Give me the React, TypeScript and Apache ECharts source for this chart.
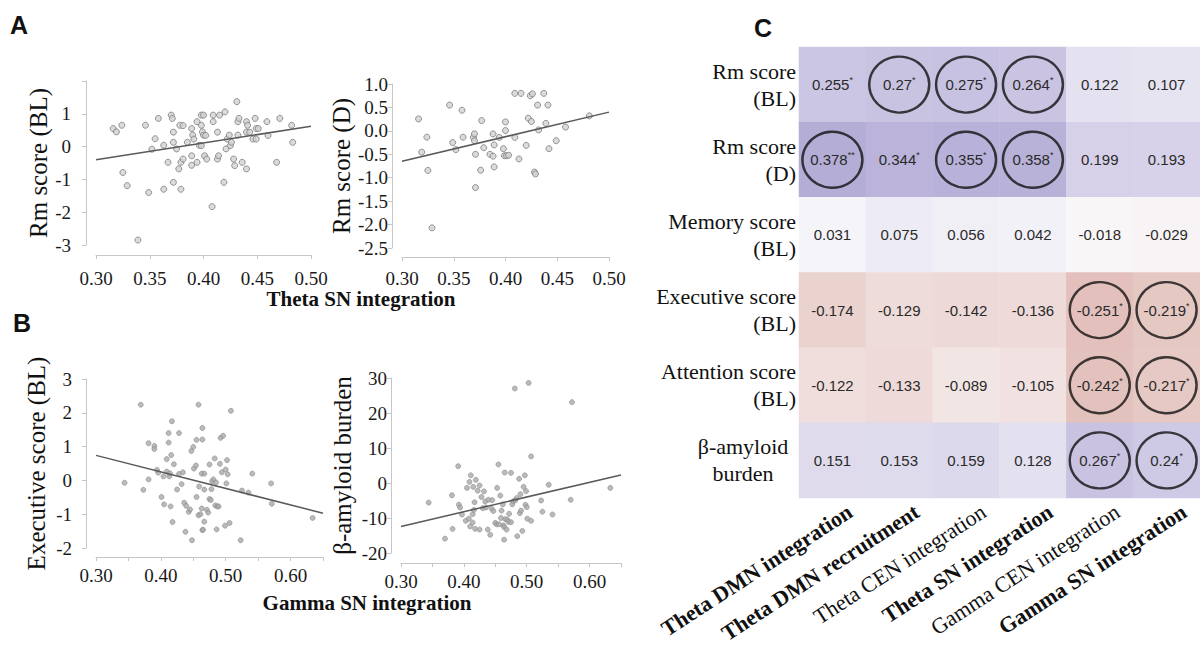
import React, { useEffect, useRef } from "react";
import * as echarts from "echarts";

// ---------- Panel A: Theta SN integration ----------
const rmScoreBL: number[][] = [
  [0.316, 0.55], [0.319, 0.45], [0.324, 0.65], [0.325, -0.79], [0.329, -1.19], [0.339, -2.85],
  [0.346, 0.65], [0.349, -1.4], [0.352, -0.08], [0.355, 0.24], [0.358, 0.86], [0.363, 0.04],
  [0.363, -1.3], [0.367, -0.48], [0.37, 0.96], [0.371, 0.86], [0.372, 0.44], [0.372, 0.13],
  [0.372, -1.09], [0.375, -0.07], [0.377, -0.68], [0.378, 0.65], [0.379, -0.48], [0.379, -1.3],
  [0.381, 0.64], [0.381, -0.38], [0.385, 0.13], [0.389, 0.55], [0.389, -0.28], [0.389, -0.57],
  [0.39, 0.35], [0.391, 0.23], [0.394, -0.48], [0.394, 0.76], [0.396, 0.04], [0.398, 0.96],
  [0.398, 0.65], [0.398, 0.03], [0.399, 0.45], [0.4, 0.96], [0.4, 0.35], [0.401, -0.28],
  [0.402, 0.34], [0.403, -0.38], [0.408, -1.83], [0.409, 0.96], [0.409, 0.76], [0.413, 0.44],
  [0.413, -0.38], [0.414, -0.28], [0.415, 0.96], [0.419, -1.09], [0.42, 1.06], [0.421, -0.07],
  [0.422, 0.23], [0.424, 0.35], [0.425, 0.03], [0.426, 0.13], [0.428, -0.38], [0.429, -0.58],
  [0.431, 1.37], [0.432, 0.76], [0.432, 0.35], [0.433, 0.86], [0.436, -0.48], [0.44, 0.44],
  [0.44, 0.76], [0.44, -0.68], [0.441, 0.65], [0.443, 0.44], [0.446, 0.23], [0.448, 0.86],
  [0.449, 0.55], [0.449, 0.23], [0.451, 0.55], [0.459, 0.76], [0.46, 0.34], [0.468, -0.48],
  [0.471, 0.86], [0.482, 0.65], [0.483, 0.13],
];
const fitRmScoreBL: number[][] = [[0.3, -0.4], [0.5, 0.62]];

const rmScoreD: number[][] = [
  [0.316, 0.255], [0.319, -0.455], [0.324, -0.135], [0.325, -0.845], [0.329, -2.07], [0.346, 0.55],
  [0.349, -0.25], [0.352, -0.4], [0.358, 0.44], [0.359, -0.135], [0.369, -0.14], [0.37, -0.065],
  [0.37, -0.21], [0.371, -0.5], [0.371, -1.21], [0.376, -0.84], [0.377, 0.22], [0.379, -0.36],
  [0.385, -0.5], [0.388, -0.065], [0.388, -0.54], [0.389, -0.77], [0.389, -0.3], [0.394, -0.14],
  [0.398, -0.38], [0.399, -0.53], [0.4, 0.006], [0.4, 0.19], [0.401, -0.53], [0.403, -0.52],
  [0.409, -0.14], [0.409, 0.8], [0.413, -0.6], [0.415, 0.8], [0.42, -0.31], [0.422, 0.27],
  [0.424, 0.75], [0.425, 0.2], [0.426, 0.79], [0.428, -0.88], [0.429, -0.92], [0.431, 0.55],
  [0.432, 0.02], [0.437, 0.8], [0.439, 0.16], [0.441, 0.55], [0.442, -0.38], [0.449, -0.21],
  [0.458, 0.08], [0.481, 0.32],
];
const fitRmScoreD: number[][] = [[0.3, -0.65], [0.5, 0.4]];

// ---------- Panel B: Gamma SN integration ----------
const executiveBL: number[][] = [
  [0.344, -0.07], [0.369, 2.24], [0.373, -0.28], [0.381, 1.1], [0.381, 0.03], [0.39, 1.02],
  [0.39, 0.93], [0.394, 0.31], [0.396, 0.23], [0.401, -0.49], [0.404, 0.12], [0.405, -0.71],
  [0.409, 0.63], [0.409, 0.26], [0.412, 1.4], [0.412, 1.12], [0.413, 0.12], [0.414, 0.21],
  [0.415, -0.77], [0.416, 0.75], [0.417, 1.75], [0.418, -1.23], [0.42, 0.48], [0.425, -0.27],
  [0.428, 1.4], [0.428, 0.19], [0.432, -0.11], [0.434, 0.24], [0.436, -0.66], [0.438, -1.52],
  [0.439, -0.75], [0.443, -0.93], [0.445, -0.86], [0.447, 0.87], [0.448, -1.77], [0.45, 0.99],
  [0.451, 0.35], [0.454, 0.44], [0.455, -0.49], [0.455, 1.2], [0.458, 2.24], [0.458, -1.03],
  [0.459, -0.18], [0.461, -1.0], [0.463, 0.2], [0.463, -0.83], [0.464, -1.47], [0.464, 1.55],
  [0.464, 1.21], [0.465, -1.46], [0.467, 0.2], [0.467, -0.27], [0.467, -1.22], [0.471, -0.87],
  [0.473, -0.95], [0.475, -0.55], [0.475, 0.47], [0.477, -0.58], [0.478, -0.26], [0.479, -0.03],
  [0.481, 0.03], [0.483, 0.65], [0.484, -0.74], [0.485, -0.06], [0.486, -1.45], [0.487, -0.77],
  [0.489, -0.77], [0.491, 0.49], [0.492, 1.26], [0.494, 0.24], [0.496, 1.32], [0.499, -1.34],
  [0.5, 0.32], [0.501, -0.09], [0.502, 0.6], [0.503, 0.18], [0.506, -1.26], [0.508, 2.06],
  [0.523, -1.77], [0.525, -0.3], [0.535, -0.36], [0.541, 0.2], [0.57, -0.09], [0.571, -0.69],
  [0.634, -1.11],
];
const fitExecutiveBL: number[][] = [[0.3, 0.74], [0.65, -0.97]];

const amyloidBurden: number[][] = [
  [0.344, -5.6], [0.37, -15.9], [0.381, -3.5], [0.382, -13.1], [0.391, 4.8], [0.392, -6.2],
  [0.394, -7.0], [0.397, -9.0], [0.403, -10.8], [0.405, -1.4], [0.408, -10.2], [0.409, 0.3],
  [0.41, -12.4], [0.411, 2.2], [0.414, -8.9], [0.414, -11.3], [0.415, -1.1], [0.416, -7.7],
  [0.417, -5.5], [0.418, -13.1], [0.419, 0.9], [0.422, -2.2], [0.425, -0.7], [0.425, -13.3],
  [0.428, -4.0], [0.43, -7.2], [0.432, -2.4], [0.434, -5.3], [0.435, -7.0], [0.438, -13.3],
  [0.439, -4.8], [0.442, -14.8], [0.444, -7.3], [0.445, -4.9], [0.447, -8.0], [0.45, -11.4],
  [0.452, -11.8], [0.453, -1.4], [0.455, 5.3], [0.456, -11.8], [0.458, -3.6], [0.459, -10.0],
  [0.46, -7.9], [0.462, -6.1], [0.463, -12.1], [0.464, -12.6], [0.464, -16.2], [0.465, 3.0],
  [0.466, -10.3], [0.468, -13.3], [0.469, -10.5], [0.471, -11.1], [0.472, -8.8], [0.475, -11.2],
  [0.475, 2.9], [0.477, -6.1], [0.479, -5.2], [0.481, 27.0], [0.482, -4.9], [0.484, -4.3],
  [0.485, -15.2], [0.488, 1.2], [0.489, -8.6], [0.49, -3.2], [0.491, -7.9], [0.493, -13.7],
  [0.495, -1.1], [0.497, 2.2], [0.498, -6.2], [0.499, -2.3], [0.5, -6.9], [0.501, -10.2],
  [0.503, 28.6], [0.507, -10.8], [0.507, 7.6], [0.523, -5.0], [0.525, -8.2], [0.535, -0.5],
  [0.541, -9.0], [0.57, -4.8], [0.572, 23.1], [0.633, -1.4],
];
const fitAmyloidBurden: number[][] = [[0.3, -12.4], [0.65, 2.3]];

// ---------- Panel C: correlation heatmap ----------
const heatRows: string[] = [
  "Rm score\n(BL)",
  "Rm score\n(D)",
  "Memory score\n(BL)",
  "Executive score\n(BL)",
  "Attention score\n(BL)",
  "β-amyloid\nburden",
];
const heatCols: string[] = [
  "Theta DMN integration",
  "Theta DMN recruitment",
  "Theta CEN integration",
  "Theta SN integration",
  "Gamma CEN integration",
  "Gamma SN integration",
];
const boldCols: boolean[] = [true, true, false, true, false, true];
const corrValues: number[][] = [
  [0.255, 0.27, 0.275, 0.264, 0.122, 0.107],
  [0.378, 0.344, 0.355, 0.358, 0.199, 0.193],
  [0.031, 0.075, 0.056, 0.042, -0.018, -0.029],
  [-0.174, -0.129, -0.142, -0.136, -0.251, -0.219],
  [-0.122, -0.133, -0.089, -0.105, -0.242, -0.217],
  [0.151, 0.153, 0.159, 0.128, 0.267, 0.24],
];
const corrStars: string[][] = [
  ["*", "*", "*", "*", "", ""],
  ["**", "*", "*", "*", "", ""],
  ["", "", "", "", "", ""],
  ["", "", "", "", "*", "*"],
  ["", "", "", "", "*", "*"],
  ["", "", "", "", "*", "*"],
];
// [column, row] of circled cells
const circledCells: number[][] = [
  [1, 0], [2, 0], [3, 0],
  [0, 1], [2, 1], [3, 1],
  [4, 3], [5, 3],
  [4, 4], [5, 4],
  [4, 5], [5, 5],
];

const SERIF = "'Liberation Serif', 'Times New Roman', serif";
const SANS = "'Liberation Sans', Arial, sans-serif";
const AXIS_GRAY = "#c6c6c6";

function valueAxis(o: any) {
  return {
    type: "value",
    gridIndex: o.grid,
    min: o.min,
    max: o.max,
    interval: o.interval,
    offset: o.offset,
    name: o.name,
    nameLocation: "middle",
    nameRotate: o.name ? 90 : undefined,
    nameGap: o.nameGap,
    nameTextStyle: { fontFamily: SERIF, fontSize: 25, color: "#111" },
    axisLine: { show: true, onZero: false, lineStyle: { color: AXIS_GRAY, width: 1 } },
    axisTick: { show: true, length: 4, lineStyle: { color: AXIS_GRAY } },
    splitLine: { show: false },
    axisLabel: {
      color: "#1a1a1a",
      fontFamily: SERIF,
      fontSize: 19,
      margin: o.margin,
      formatter: o.formatter,
      showMinLabel: true,
      showMaxLabel: true,
    },
  };
}

const fmt2 = (v: number) => v.toFixed(2);
const fmtEven = (v: number) => {
  const h = Math.round(v * 100);
  return h % 10 === 0 && h < 65 ? (h / 100).toFixed(2) : "";
};

function scatterSeries(idx: number, data: number[][], open: boolean) {
  return {
    type: "scatter",
    xAxisIndex: idx,
    yAxisIndex: idx,
    data,
    symbol: "circle",
    symbolSize: open ? 6 : 5,
    itemStyle: open
      ? { color: "#d2d2d2", borderColor: "#7c7c7c", borderWidth: 1 }
      : { color: "#a9a9a9", borderColor: "#8e8e8e", borderWidth: 0.8 },
    z: 2,
  };
}
function fitSeries(idx: number, data: number[][]) {
  return {
    type: "line",
    xAxisIndex: idx,
    yAxisIndex: idx,
    data,
    symbol: "none",
    lineStyle: { color: "#5a5a5a", width: 1.5 },
    z: 3,
  };
}

export default function App() {
  const ref = useRef<HTMLDivElement>(null);

  useEffect(() => {
    if (!ref.current) return;
    const chart = echarts.init(ref.current, undefined, { renderer: "svg" });

    const heatData: number[][] = [];
    corrValues.forEach((row, r) => row.forEach((v, c) => heatData.push([c, r, v])));

    const option: any = {
      animation: false,
      backgroundColor: "#ffffff",
      grid: [
        { left: 96, top: 81, width: 215, height: 164 },
        { left: 402, top: 84, width: 207, height: 164 },
        { left: 96, top: 379, width: 227, height: 169 },
        { left: 401, top: 378, width: 220, height: 175 },
        { left: 799, top: 47, width: 401, height: 451 },
      ],
      xAxis: [
        valueAxis({ grid: 0, min: 0.3, max: 0.5, interval: 0.05, offset: 10, margin: 14, formatter: fmt2 }),
        valueAxis({ grid: 1, min: 0.3, max: 0.5, interval: 0.05, offset: 9, margin: 12, formatter: fmt2 }),
        valueAxis({ grid: 2, min: 0.3, max: 0.65, interval: 0.05, offset: 9, margin: 9, formatter: fmtEven }),
        valueAxis({ grid: 3, min: 0.3, max: 0.65, interval: 0.05, offset: 10, margin: 9, formatter: fmtEven }),
        {
          type: "category",
          gridIndex: 4,
          data: heatCols.map((c, i) => ({
            value: c,
            textStyle: { fontWeight: boldCols[i] ? "bold" : "normal" },
          })),
          axisLine: { show: false },
          axisTick: { show: false },
          axisLabel: {
            interval: 0,
            rotate: 33,
            fontFamily: SERIF,
            fontSize: 22,
            color: "#111",
            margin: 23,
            padding: [0, -21, 0, 0],
          },
        },
      ],
      yAxis: [
        valueAxis({
          grid: 0, min: -3, max: 2, interval: 1, offset: 10, margin: 15,
          formatter: (v: number) => (v === 2 ? "" : String(v)),
          name: "Rm score (BL)", nameGap: 32,
        }),
        valueAxis({
          grid: 1, min: -2.5, max: 1, interval: 0.5, offset: 10, margin: 4,
          formatter: (v: number) => v.toFixed(1),
          name: "Rm score (D)", nameGap: 38,
        }),
        valueAxis({
          grid: 2, min: -2, max: 3, interval: 1, offset: 10, margin: 14,
          formatter: (v: number) => String(v),
          name: "Executive score (BL)", nameGap: 37,
        }),
        valueAxis({
          grid: 3, min: -20, max: 30, interval: 10, offset: 10, margin: 4,
          formatter: (v: number) => String(v),
          name: "β-amyloid burden", nameGap: 36,
        }),
        {
          type: "category",
          gridIndex: 4,
          inverse: true,
          data: heatRows,
          axisLine: { show: false },
          axisTick: { show: false },
          axisLabel: {
            interval: 0,
            fontFamily: SERIF,
            fontSize: 22,
            lineHeight: 27,
            color: "#111",
            margin: 3,
            align: "right",
            formatter: (v: string) =>
              v.startsWith("β") ? v.split("\n").map((s) => `{c|${s}}`).join("\n") : v,
            rich: {
              c: {
                width: 106,
                align: "center",
                fontFamily: SERIF,
                fontSize: 22,
                lineHeight: 27,
                color: "#111",
              },
            },
          },
        },
      ],
      visualMap: {
        show: false,
        type: "continuous",
        seriesIndex: 8,
        dimension: 2,
        min: -0.4,
        max: 0.4,
        inRange: { color: ["#d49e94", "#fbfafc", "#b0a8d4"] },
      },
      series: [
        scatterSeries(0, rmScoreBL, true),
        fitSeries(0, fitRmScoreBL),
        scatterSeries(1, rmScoreD, true),
        fitSeries(1, fitRmScoreD),
        scatterSeries(2, executiveBL, false),
        fitSeries(2, fitExecutiveBL),
        scatterSeries(3, amyloidBurden, false),
        fitSeries(3, fitAmyloidBurden),
        {
          type: "heatmap",
          xAxisIndex: 4,
          yAxisIndex: 4,
          data: heatData,
          itemStyle: { borderWidth: 0 },
          emphasis: { disabled: true },
          label: {
            show: true,
            formatter: (p: any) => {
              const [c, r, v] = p.data;
              const s = corrStars[r][c];
              return s ? `{v|${v}}{s|${s}}` : `{v|${v}}`;
            },
            rich: {
              v: { fontFamily: SANS, fontSize: 15, color: "#2a2a2a", lineHeight: 18 },
              s: { fontFamily: SANS, fontSize: 9, color: "#2a2a2a", verticalAlign: "top", lineHeight: 9 },
            },
          },
        },
        {
          type: "scatter",
          xAxisIndex: 4,
          yAxisIndex: 4,
          data: circledCells,
          symbol: "circle",
          symbolSize: [60, 56],
          itemStyle: { color: "rgba(0,0,0,0)", borderColor: "#111", borderWidth: 2.4 },
          z: 5,
          silent: true,
        },
      ],
      graphic: [
        { type: "text", left: 10, top: 12, style: { text: "A", font: `bold 25px ${SANS}`, fill: "#111" } },
        { type: "text", left: 13, top: 310, style: { text: "B", font: `bold 25px ${SANS}`, fill: "#111" } },
        { type: "text", left: 754, top: 15, style: { text: "C", font: `bold 25px ${SANS}`, fill: "#111" } },
        {
          type: "text", x: 361, y: 299,
          style: { text: "Theta SN integration", font: `bold 21px ${SERIF}`, fill: "#111", textAlign: "center", textVerticalAlign: "middle" },
        },
        {
          type: "text", x: 367, y: 603,
          style: { text: "Gamma SN integration", font: `bold 21px ${SERIF}`, fill: "#111", textAlign: "center", textVerticalAlign: "middle" },
        },
      ],
    };

    chart.setOption(option);
    return () => chart.dispose();
  }, []);

  return (
    <div
      ref={ref}
      style={{ position: "fixed", left: 0, top: 0, width: 1200, height: 651, background: "#fff" }}
    />
  );
}
